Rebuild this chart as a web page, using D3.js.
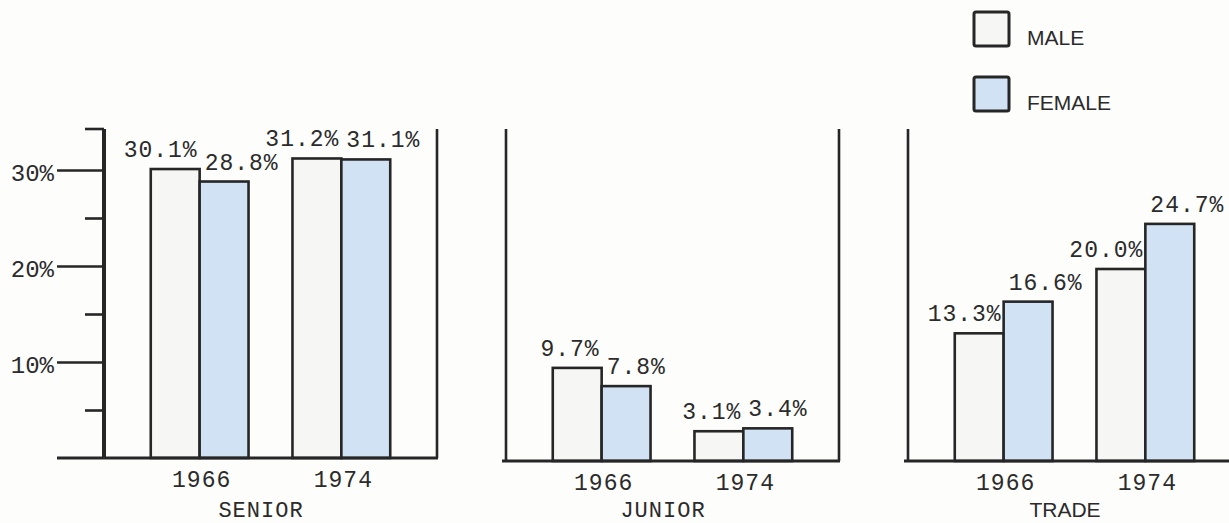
<!DOCTYPE html>
<html>
<head>
<meta charset="utf-8">
<script src="https://cdn.jsdelivr.net/npm/d3@7"></script>
<style>
  html, body { margin: 0; padding: 0; background: #fdfdfc; }
  svg { display: block; }
  .mono { font-family: "Liberation Mono", "DejaVu Sans Mono", monospace; fill: #2b2b2b; }
  .sans { font-family: "Liberation Sans", Arial, sans-serif; fill: #2b2b2b; }
</style>
</head>
<body>
<svg id="chart" width="1229" height="523"></svg>
<script>
// School-leaver destinations by sex, 1966 vs 1974
const categories = ["SENIOR", "JUNIOR", "TRADE"];
const years = ["1966", "1974"];
const seriesNames = ["MALE", "FEMALE"];
const maleValues = [[30.1, 31.2], [9.7, 3.1], [13.3, 20.0]];
const femaleValues = [[28.8, 31.1], [7.8, 3.4], [16.6, 24.7]];
const majorTicks = [10, 20, 30];
const minorTicks = [5, 15, 25];
const tickLabels = ["10%", "20%", "30%"];

const ink = "#262626";
const fills = { MALE: "#f6f6f4", FEMALE: "#d0e2f4" };

const svg = d3.select("#chart");

// panel geometry
const panelLeft = [104, 506, 908];
const panelBase = [458, 461, 461];
const panelWidth = 333;
const panelTop = 129;
const pxPerPct = 9.6;

const fmt = v => v.toFixed(1) + "%";

categories.forEach((cat, i) => {
  const x0 = panelLeft[i];
  const base = panelBase[i];
  const y = d3.scaleLinear().domain([0, 35]).range([base, base - 35 * pxPerPct]);
  const xYear = d3.scaleBand().domain(years).range([x0, x0 + panelWidth])
    .paddingInner(0.31).paddingOuter(0.33);
  const xSex = d3.scaleBand().domain(seriesNames).range([0, xYear.bandwidth()]);

  const g = svg.append("g");

  // bars
  years.forEach((yr, j) => {
    const vals = { MALE: maleValues[i][j], FEMALE: femaleValues[i][j] };
    seriesNames.forEach(s => {
      const v = vals[s];
      const bx = xYear(yr) + xSex(s);
      g.append("rect")
        .attr("x", bx)
        .attr("y", y(v))
        .attr("width", xSex.bandwidth())
        .attr("height", base - y(v))
        .attr("fill", fills[s])
        .attr("stroke", ink)
        .attr("stroke-width", 2.6);
      const isMale = s === "MALE";
      g.append("text")
        .attr("class", "mono")
        .attr("x", isMale ? bx + xSex.bandwidth() - 2 : bx + 5)
        .attr("y", y(v) - 12)
        .attr("text-anchor", isMale ? "end" : "start")
        .attr("font-size", 23)
        .attr("letter-spacing", 1)
        .text(fmt(v));
    });
    // year label
    g.append("text")
      .attr("class", "mono")
      .attr("x", xYear(yr) + xYear.bandwidth() / 2 + 2)
      .attr("y", base + 29)
      .attr("text-anchor", "middle")
      .attr("font-size", 23)
      .attr("letter-spacing", 1)
      .text(yr);
  });

  // frame: left and right verticals + baseline
  const right = x0 + panelWidth;
  const baseStart = i === 0 ? 57 : x0 - 4;
  g.append("line")
    .attr("x1", baseStart).attr("x2", i === 2 ? 1240 : right + 1)
    .attr("y1", base).attr("y2", base)
    .attr("stroke", ink).attr("stroke-width", 2.8);
  g.append("line")
    .attr("x1", x0).attr("x2", x0)
    .attr("y1", panelTop).attr("y2", base)
    .attr("stroke", ink).attr("stroke-width", i === 0 ? 4 : 2.6);
  g.append("line")
    .attr("x1", right).attr("x2", right)
    .attr("y1", panelTop).attr("y2", base)
    .attr("stroke", ink).attr("stroke-width", 2.6);

  // category label
  svg.append("text")
    .attr("class", i === 2 ? "sans" : "mono")
    .attr("x", x0 + 157)
    .attr("y", 517)
    .attr("text-anchor", "middle")
    .attr("font-size", i === 2 ? 21 : 22)
    .attr("letter-spacing", i === 2 ? 0 : 1)
    .text(cat);

  // value axis on the first panel only
  if (i === 0) {
    const major = d3.axisLeft(y).tickValues(majorTicks).tickSize(47)
      .tickFormat((d, k) => tickLabels[k]).tickPadding(3);
    const minor = d3.axisLeft(y).tickValues(minorTicks).tickSize(19).tickFormat("");
    const ga = svg.append("g").attr("transform", `translate(${x0},0)`).call(major);
    const gm = svg.append("g").attr("transform", `translate(${x0},0)`).call(minor);
    [ga, gm].forEach(a => {
      a.select(".domain").remove();
      a.selectAll(".tick line").attr("stroke", ink).attr("stroke-width", 2.6);
    });
    ga.selectAll(".tick text")
      .attr("class", "mono")
      .attr("font-size", 24)
      .attr("letter-spacing", 0)
      .attr("dy", "0.45em")
      .attr("fill", "#2b2b2b");
    // cap at the top of the axis
    svg.append("line")
      .attr("x1", x0 - 19).attr("x2", x0)
      .attr("y1", panelTop).attr("y2", panelTop)
      .attr("stroke", ink).attr("stroke-width", 2.6);
  }
});

// legend
const legend = svg.append("g");
seriesNames.forEach((s, k) => {
  const ly = 12 + k * 65;
  legend.append("rect")
    .attr("x", 974).attr("y", ly)
    .attr("width", 35).attr("height", 34)
    .attr("rx", 2)
    .attr("fill", fills[s])
    .attr("stroke", ink).attr("stroke-width", 3);
  legend.append("text")
    .attr("class", "sans")
    .attr("x", 1027).attr("y", ly + 33)
    .attr("font-size", 21)
    .text(s);
});
</script>
</body>
</html>
